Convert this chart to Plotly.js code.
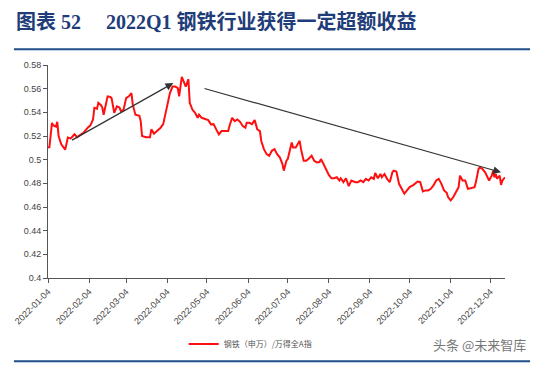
<!DOCTYPE html>
<html>
<head>
<meta charset="utf-8">
<script src="https://cdn.plot.ly/plotly-3.0.1.min.js"></script>
<style>html,body{margin:0;padding:0;background:#fff;}#chart{width:548px;height:370px;}</style>
</head>
<body>
<div id="chart"></div>
<script>
const dates = [
"2022-01-04","2022-01-05","2022-01-07","2022-01-08","2022-01-10","2022-01-11","2022-01-12","2022-01-14","2022-01-16","2022-01-17",
"2022-01-19","2022-01-21","2022-01-22","2022-01-24","2022-01-26","2022-01-29","2022-01-31","2022-02-03","2022-02-05","2022-02-07",
"2022-02-08","2022-02-10","2022-02-11","2022-02-13","2022-02-14","2022-02-15","2022-02-18","2022-02-20","2022-02-21","2022-02-23",
"2022-02-25","2022-02-27","2022-02-28","2022-03-02","2022-03-04","2022-03-06","2022-03-08","2022-03-09","2022-03-11","2022-03-14",
"2022-03-15","2022-03-16","2022-03-19","2022-03-22","2022-03-23","2022-03-25","2022-03-27","2022-03-30","2022-04-01","2022-04-04",
"2022-04-06","2022-04-08","2022-04-10","2022-04-12","2022-04-13","2022-04-15","2022-04-17","2022-04-18","2022-04-20","2022-04-21",
"2022-04-23","2022-04-25","2022-04-27","2022-04-28","2022-04-30","2022-05-03","2022-05-05","2022-05-07","2022-05-09","2022-05-11",
"2022-05-13","2022-05-15","2022-05-18","2022-05-20","2022-05-21","2022-05-23","2022-05-25","2022-05-27","2022-05-29","2022-05-31",
"2022-06-02","2022-06-03","2022-06-05","2022-06-07","2022-06-09","2022-06-11","2022-06-13","2022-06-14","2022-06-16","2022-06-18",
"2022-06-20","2022-06-22","2022-06-24","2022-06-26","2022-06-28","2022-06-30","2022-07-01","2022-07-03","2022-07-04","2022-07-06",
"2022-07-07","2022-07-08","2022-07-10","2022-07-13","2022-07-14","2022-07-16","2022-07-18","2022-07-20","2022-07-22","2022-07-24",
"2022-07-26","2022-07-28","2022-07-29","2022-07-31","2022-08-02","2022-08-04","2022-08-06","2022-08-08","2022-08-10","2022-08-12",
"2022-08-13","2022-08-15","2022-08-17","2022-08-18","2022-08-19","2022-08-21","2022-08-24","2022-08-26","2022-08-28","2022-08-30",
"2022-09-01","2022-09-03","2022-09-05","2022-09-07","2022-09-08","2022-09-10","2022-09-12","2022-09-13","2022-09-15","2022-09-17",
"2022-09-19","2022-09-21","2022-09-22","2022-09-24","2022-09-26","2022-09-28","2022-09-30","2022-10-02","2022-10-04","2022-10-07",
"2022-10-10","2022-10-12","2022-10-14","2022-10-16","2022-10-18","2022-10-20","2022-10-22","2022-10-24","2022-10-26","2022-10-28",
"2022-10-30","2022-11-01","2022-11-02","2022-11-04","2022-11-06","2022-11-08","2022-11-10","2022-11-11","2022-11-13","2022-11-15",
"2022-11-17","2022-11-19","2022-11-22","2022-11-23","2022-11-25","2022-11-26","2022-11-28","2022-11-30","2022-12-02","2022-12-03",
"2022-12-05","2022-12-06","2022-12-07","2022-12-08","2022-12-09","2022-12-11","2022-12-12","2022-12-13","2022-12-15"
];
const ratio = [
0.511,0.510,0.531,0.529,0.528,0.532,0.520,0.513,0.510,0.5085,
0.5187,0.518,0.519,0.5214,0.519,0.521,0.523,0.527,0.529,0.534,
0.5438,0.543,0.548,0.546,0.544,0.538,0.5535,0.553,0.552,0.5395,
0.545,0.544,0.541,0.542,0.552,0.5535,0.5563,0.5465,0.538,0.537,
0.5325,0.520,0.519,0.519,0.5256,0.522,0.524,0.527,0.530,0.544,
0.556,0.5618,0.5618,0.5605,0.5535,0.570,0.5647,0.5618,0.568,0.548,
0.5423,0.5396,0.5354,0.538,0.5354,0.5345,0.5334,0.5298,0.530,0.5256,
0.5214,0.5242,0.5242,0.5242,0.5284,0.5354,0.5326,0.534,0.532,0.5284,
0.527,0.5312,0.5312,0.530,0.5334,0.5256,0.5242,0.5158,0.5089,0.5047,
0.5033,0.5075,0.5089,0.5047,0.502,0.4963,0.4907,0.4991,0.5005,0.5089,
0.5145,0.5103,0.5103,0.5159,0.5089,0.4991,0.4991,0.501,0.5033,0.4991,
0.4977,0.498,0.5005,0.4963,0.4921,0.4871,0.4843,0.4843,0.4851,0.4824,
0.4843,0.481,0.4843,0.4815,0.4776,0.4824,0.481,0.481,0.4824,0.481,
0.4838,0.4824,0.4851,0.4838,0.4888,0.4843,0.4879,0.4851,0.4879,0.4838,
0.481,0.4893,0.4907,0.4900,0.4796,0.4754,0.4712,0.474,0.4768,0.4787,
0.4815,0.481,0.4732,0.474,0.474,0.4754,0.4782,0.4824,0.4838,0.4796,
0.474,0.472,0.4684,0.4656,0.4684,0.4726,0.4768,0.4865,0.4824,0.4824,
0.4754,0.4758,0.4768,0.481,0.4921,0.4935,0.4921,0.4893,0.4851,0.4824,
0.4865,0.4907,0.4851,0.4879,0.484,0.4865,0.4787,0.4824,0.4851
];
const yTicks = [0.4,0.42,0.44,0.46,0.48,0.5,0.52,0.54,0.56,0.58];
const seriesName = "钢铁（申万）/万得全A指";
const titleText = "图表 52&nbsp;&nbsp;&nbsp;&nbsp;&nbsp;2022Q1 钢铁行业获得一定超额收益";
// trend arrows: [start date, start value, end date, end value]
const arrowUp = ["2022-01-21", 0.5158, "2022-04-08 14:00", 0.5647];
const arrowDown = ["2022-05-01", 0.5605, "2022-12-12", 0.4893];

const tickFont = {family: "Arial, Liberation Sans, sans-serif", size: 9, color: "#444"};

function arrowAnn(a){
  return {x: a[2], y: a[3], ax: a[0], ay: a[1], xref: "x", yref: "y", axref: "x", ayref: "y",
    showarrow: true, arrowhead: 2, arrowsize: 1.3, arrowwidth: 1.2, arrowcolor: "#333", text: ""};
}

const trace = {
  x: dates, y: ratio, type: "scatter", mode: "lines", name: seriesName,
  line: {color: "#ff1010", width: 2}
};

const layout = {
  width: 548, height: 370,
  margin: {l: 48, r: 43, t: 65, b: 90},
  paper_bgcolor: "#fff", plot_bgcolor: "#fff",
  showlegend: true,
  legend: {orientation: "h", x: 0.297, xanchor: "left", y: -0.31, yanchor: "middle",
    font: {family: "Noto Sans CJK SC, sans-serif", size: 8, color: "#555"}, bgcolor: "rgba(0,0,0,0)"},
  xaxis: {
    type: "date", range: ["2022-01-04", "2022-12-15"],
    tick0: "2022-01-04", dtick: "M1", tickformat: "%Y-%m-%d", tickangle: -45,
    showgrid: false, zeroline: false, showline: true, linecolor: "#555", linewidth: 1,
    ticks: "outside", ticklen: 4, tickcolor: "#555", tickfont: tickFont
  },
  yaxis: {
    range: [0.4, 0.58], tickvals: yTicks, ticktext: yTicks.map(v => String(v)),
    showgrid: false, zeroline: false, showline: true, linecolor: "#555", linewidth: 1,
    ticks: "outside", ticklen: 4, tickcolor: "#555", tickfont: tickFont
  },
  shapes: [
    {type: "line", xref: "paper", yref: "paper", x0: -0.0744, x1: 1.0547, y0: 1.0744, y1: 1.0744,
      line: {color: "#1f4e8a", width: 2}},
    {type: "line", xref: "paper", yref: "paper", x0: -0.0744, x1: 1.0547, y0: -0.3907, y1: -0.3907,
      line: {color: "#1f4e8a", width: 2}}
  ],
  annotations: [
    {text: "<b>" + titleText + "</b>", xref: "paper", yref: "paper", x: -0.075, y: 1.205, xanchor: "left", yanchor: "middle",
      showarrow: false, font: {family: "Liberation Serif, Noto Sans CJK SC, serif", size: 20, color: "#1f3d78"}},
    {text: "头条 @未来智库", xref: "paper", yref: "paper", x: 1.05, y: -0.31, xanchor: "right", yanchor: "middle",
      showarrow: false, font: {family: "Noto Sans CJK SC, sans-serif", size: 13, color: "#777"}},
    arrowAnn(arrowUp),
    arrowAnn(arrowDown)
  ]
};

Plotly.newPlot("chart", [trace], layout, {displayModeBar: false, staticPlot: true});
</script>
</body>
</html>
